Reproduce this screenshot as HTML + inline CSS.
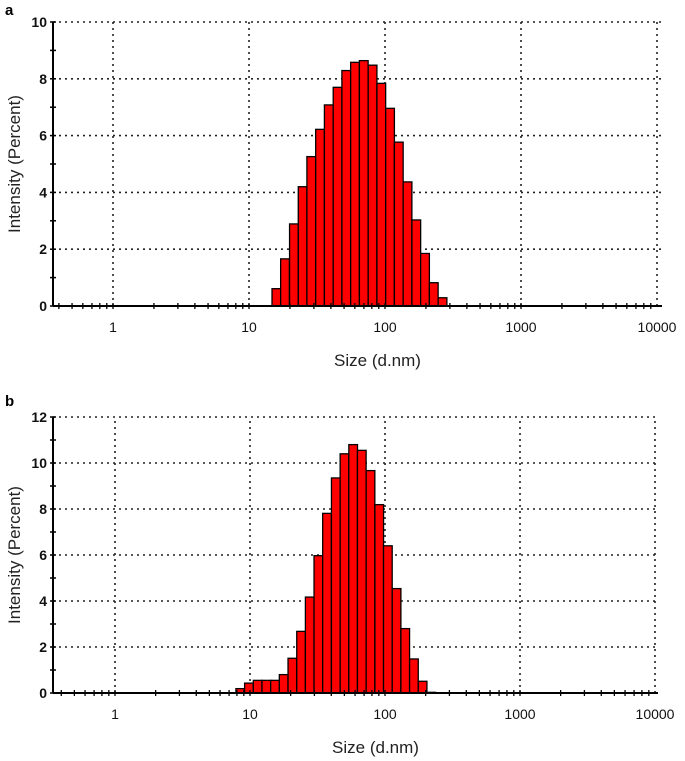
<!DOCTYPE html>
<html><head><meta charset="utf-8"><style>
html,body{margin:0;padding:0;background:#fff}
svg{display:block;font-family:"Liberation Sans",Arial,sans-serif}
</style></head><body>
<svg id="root" width="685" height="761" viewBox="0 0 685 761"></svg>
<script>
const sizesA=[15.9,18.4,21.4,24.8,28.7,33.3,38.6,44.8,51.9,60.2,69.8,81.0,93.9,108.9,126.3,146.4,169.8,196.9,228.3,264.8];
const valuesA=[0.61,1.66,2.89,4.2,5.26,6.22,7.08,7.7,8.29,8.58,8.64,8.48,7.84,6.96,5.77,4.37,3.03,1.85,0.82,0.29];
const sizesB=[8.47,9.82,11.39,13.21,15.32,17.76,20.6,23.9,27.7,32.1,37.2,43.2,50.1,58.1,67.3,78.1,90.6,105,121.8,141.2,163.8,189.9,220.2];
const valuesB=[0.19,0.43,0.55,0.55,0.55,0.80,1.51,2.68,4.17,5.97,7.81,9.35,10.4,10.8,10.55,9.67,8.19,6.4,4.54,2.8,1.48,0.51,0.03];
const xTickLabels=["1","10","100","1000","10000"];
const yTicksA=[0,2,4,6,8,10];
const yTicksB=[0,2,4,6,8,10,12];
const NS="http://www.w3.org/2000/svg";
const root=document.getElementById('root');
function mk(tag,attrs,parent,name,text){
  const e=document.createElementNS(NS,tag);
  for(const k in attrs)e.setAttribute(k,attrs[k]);
  
  
  if(text!==undefined)e.textContent=text;
  parent.appendChild(e);return e;
}
function chart(cfg){
  const g=mk('g',{},root,cfg.name);
  const x=v=>cfg.x1+(Math.log10(v))*cfg.dec;
  const y=v=>cfg.y0-v*cfg.unit;
  const halfBin=0.03215;
  cfg.yTicks.forEach(t=>{ if(t>0) mk('line',{x1:cfg.left,x2:cfg.right,y1:y(t),y2:y(t),stroke:'#222','stroke-width':1.6,'stroke-dasharray':'2,4'},g,'grid-h-'+t);});
  xTickLabels.forEach((l,i)=>{ mk('line',{x1:x(Math.pow(10,i)),x2:x(Math.pow(10,i)),y1:cfg.y0,y2:y(cfg.ymax),stroke:'#222','stroke-width':1.6,'stroke-dasharray':'2,4'},g,'grid-v-'+l);});
  cfg.sizes.forEach((s,i)=>{
    const lx=cfg.x1+(Math.log10(s)-halfBin)*cfg.dec, rx=cfg.x1+(Math.log10(s)+halfBin)*cfg.dec;
    const b=mk('rect',{x:lx,y:y(cfg.values[i]),width:rx-lx,height:cfg.y0-y(cfg.values[i]),fill:'#ff0000',stroke:'#000','stroke-width':1.3},g,'bar');
    
  });
  mk('line',{x1:cfg.left,x2:cfg.left,y1:cfg.y0,y2:y(cfg.ymax),stroke:'#000','stroke-width':2},g,'y-axis');
  mk('line',{x1:cfg.left,x2:cfg.right,y1:cfg.y0,y2:cfg.y0,stroke:'#000','stroke-width':2},g,'x-axis');
  for(let t=0;t<=cfg.ymax;t++){
    mk('line',{x1:cfg.left-3,x2:cfg.left+3,y1:y(t),y2:y(t),stroke:'#000','stroke-width':1.5},g,'y-tick');
  }
  cfg.yTicks.forEach(t=>mk('text',{x:cfg.left-6,y:y(t)+5,'text-anchor':'end','font-size':14,'font-weight':'bold',fill:'#111'},g,'y-tick-label',String(t)));
  for(let d=-1;d<=3;d++)for(let m=1;m<=9;m++){
    const v=m*Math.pow(10,d); const px=x(v);
    if(px<cfg.left||px>cfg.right)continue;
    mk('line',{x1:px,x2:px,y1:cfg.y0-3,y2:cfg.y0+3,stroke:'#000','stroke-width':1.3},g,'x-tick');
  }
  xTickLabels.forEach((l,i)=>mk('text',{x:x(Math.pow(10,i)),y:cfg.y0+26,'text-anchor':'middle','font-size':14,fill:'#111'},g,'x-tick-label',l));
  mk('text',{x:(cfg.left+cfg.right)/2+20,y:cfg.y0+60,'text-anchor':'middle','font-size':17,fill:'#222'},g,'x-axis-title','Size (d.nm)');
  mk('text',{x:0,y:0,transform:`translate(20,${(cfg.y0+y(cfg.ymax))/2}) rotate(-90)`,'text-anchor':'middle','font-size':17,fill:'#222'},g,'y-axis-title','Intensity (Percent)');
  mk('text',{x:5,y:cfg.labelY,'font-size':15,'font-weight':'bold',fill:'#000'},g,'panel-label',cfg.label);
}
chart({name:'chart-a',label:'a',labelY:15,left:53,right:662,x1:113,dec:136,y0:306,unit:28.4,ymax:10,yTicks:yTicksA,sizes:sizesA,values:valuesA});
chart({name:'chart-b',label:'b',labelY:406,left:53,right:658,x1:115,dec:135,y0:693,unit:23,ymax:12,yTicks:yTicksB,sizes:sizesB,values:valuesB});
</script>
</body></html>
